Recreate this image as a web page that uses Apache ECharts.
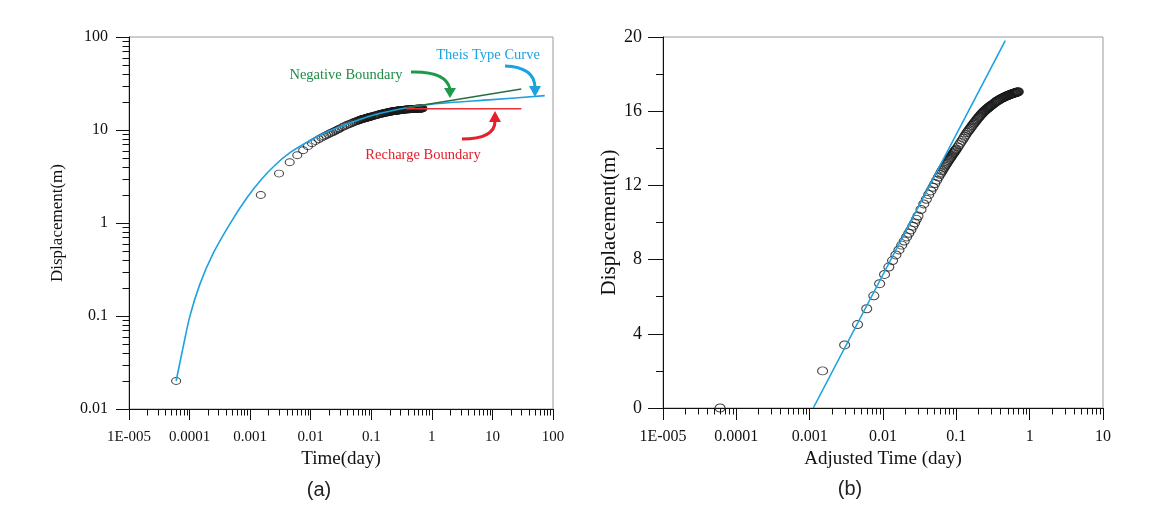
<!DOCTYPE html>
<html><head><meta charset="utf-8">
<script src="https://cdn.jsdelivr.net/npm/echarts@6/dist/echarts.min.js"></script>
<style>html,body{margin:0;background:#fff}#c{width:1164px;height:514px}</style>
</head><body><div id="c"></div><script>
// ---------- data ----------
const obsTime = [0.00006,
  0.0015, 0.003, 0.0045, 0.006, 0.0075, 0.009, 0.0105, 0.012, 0.0135, 0.015,
  0.0165, 0.018, 0.0195, 0.021, 0.0225, 0.024, 0.0255, 0.027, 0.0285, 0.030,
  0.033, 0.036, 0.039, 0.042, 0.045, 0.048, 0.051, 0.054, 0.057, 0.060,
  0.062, 0.064, 0.066, 0.068, 0.070, 0.072, 0.074, 0.076, 0.078, 0.080,
  0.082, 0.084, 0.086, 0.088, 0.090, 0.092, 0.094, 0.096, 0.098, 0.100,
  0.105, 0.110, 0.115, 0.120, 0.125, 0.130, 0.135, 0.140, 0.145, 0.150,
  0.155, 0.160, 0.165, 0.170, 0.175, 0.180, 0.185, 0.190, 0.195, 0.200,
  0.205, 0.210, 0.215, 0.220, 0.225, 0.230, 0.235, 0.240, 0.245, 0.250,
  0.255, 0.260, 0.265, 0.270, 0.275, 0.280, 0.285, 0.290, 0.295, 0.300,
  0.31, 0.32, 0.33, 0.34, 0.35, 0.36, 0.37, 0.38, 0.39, 0.40,
  0.41, 0.42, 0.43, 0.44, 0.45, 0.46, 0.47, 0.48, 0.49, 0.50,
  0.51, 0.52, 0.53, 0.54, 0.55, 0.56, 0.57, 0.58, 0.59, 0.60,
  0.61, 0.62, 0.63, 0.64, 0.65, 0.66, 0.67, 0.68, 0.69, 0.70];
const obsDisp = [0,
  2.0, 3.4, 4.5, 5.35, 6.05, 6.7, 7.2, 7.6, 7.95, 8.25,
  8.52, 8.78, 9.0, 9.22, 9.42, 9.6, 9.8, 9.98, 10.17, 10.35,
  10.7, 11.0, 11.25, 11.5, 11.7, 11.9, 12.1, 12.28, 12.45, 12.6,
  12.7, 12.79, 12.88, 12.96, 13.04, 13.12, 13.19, 13.26, 13.33, 13.4,
  13.46, 13.52, 13.58, 13.64, 13.7, 13.75, 13.8, 13.86, 13.91, 13.96,
  14.07, 14.2, 14.32, 14.43, 14.54, 14.65, 14.75, 14.85, 14.93, 15.0,
  15.08, 15.15, 15.23, 15.3, 15.36, 15.42, 15.48, 15.54, 15.6, 15.65,
  15.7, 15.75, 15.8, 15.84, 15.88, 15.92, 15.96, 16.0, 16.03, 16.06,
  16.09, 16.12, 16.15, 16.17, 16.2, 16.22, 16.25, 16.27, 16.3, 16.32,
  16.36, 16.4, 16.44, 16.48, 16.52, 16.55, 16.58, 16.6, 16.63, 16.66,
  16.68, 16.7, 16.72, 16.74, 16.76, 16.78, 16.8, 16.81, 16.83, 16.84,
  16.86, 16.87, 16.88, 16.89, 16.91, 16.92, 16.93, 16.94, 16.95, 16.96,
  16.97, 16.98, 16.99, 17.0, 17.01, 17.02, 17.02, 17.03, 17.04, 17.05];
const firstPointOnLog = 0.02;   // first reading as shown on the log plot

const theisTime = [0.00006, 0.0000778, 0.0001015, 0.0001485, 0.000243, 0.000464, 0.000885, 0.001566,
  0.002564, 0.00454, 0.00865, 0.01589, 0.0303, 0.106, 0.386, 1.0, 10, 73];
const theisDisp = [0.02, 0.0454, 0.1002, 0.2216, 0.466, 0.98, 1.867, 2.99,
  4.18, 5.70, 7.39, 9.12, 10.85, 14.43, 17.38, 18.96, 21.2, 23.4];
const negTime = [0.38, 30];
const negDisp = [17.3, 27.6];
const rechTime = [0.38, 30];
const rechDisp = [16.9, 16.9];
const jacobTime = [0.00112, 0.465];
const jacobDisp = [0, 19.8];

const logTickLabels = ['1E-005', '0.0001', '0.001', '0.01', '0.1', '1', '10', '100'];
const minorMultipliers = [2, 3, 4, 5, 6, 7, 8, 9];

// ---------- helpers ----------
const SERIF = '"Liberation Serif","Times New Roman",serif';
const INK = '#111';
const BLUE = '#1da2e0';
const pairs = (xs, ys) => xs.map((x, i) => [x, ys[i]]);
const logLabel = v => logTickLabels[Math.round(Math.log10(v)) + 5];
function minorValues(e0, e1) {
  const out = [];
  for (let e = e0; e < e1; e++) minorMultipliers.forEach(m => out.push(m * Math.pow(10, e)));
  return out;
}
function minorTicks(xi, yi, dir, values, other, len) {
  return {
    type: 'custom', xAxisIndex: xi, yAxisIndex: yi, silent: true, clip: false, z: 6,
    data: values.map(v => dir === 'x' ? [v, other] : [other, v]),
    renderItem: (params, api) => {
      const p = api.coord([api.value(0), api.value(1)]);
      const x = Math.round(p[0]) + 0.5, y = Math.round(p[1]) + 0.5;
      return {
        type: 'line',
        shape: dir === 'x' ? {x1: x, y1: y, x2: x, y2: y + len} : {x1: x - len, y1: y, x2: x, y2: y},
        style: {stroke: INK, lineWidth: 1}
      };
    }
  };
}
const obsStyle = {color: 'rgba(0,0,0,0)', borderColor: '#1a1a1a', borderWidth: 1};

const chart = echarts.init(document.getElementById('c'), null, {renderer: 'canvas'});
chart.setOption({
  backgroundColor: '#fff',
  animation: false,
  grid: [
    {left: 129, top: 37, width: 424, height: 372, show: true, borderColor: '#9a9a9a', borderWidth: 1, containLabel: false},
    {left: 663, top: 37, width: 440, height: 371, show: true, borderColor: '#9a9a9a', borderWidth: 1, containLabel: false}
  ],
  xAxis: [
    {gridIndex: 0, type: 'log', logBase: 10, min: 1e-5, max: 100, splitNumber: 7,
     axisLine: {show: true, onZero: false, lineStyle: {color: INK, width: 1}},
     axisTick: {show: true, inside: false, length: 11, lineStyle: {color: INK}},
     axisLabel: {formatter: logLabel, fontFamily: SERIF, fontSize: 15, color: INK, margin: 21},
     splitLine: {show: false},
     name: 'Time(day)', nameLocation: 'middle', nameGap: 37,
     nameTextStyle: {fontFamily: SERIF, fontSize: 19, color: INK}},
    {gridIndex: 1, type: 'log', logBase: 10, min: 1e-5, max: 10, splitNumber: 6,
     axisLine: {show: true, onZero: false, lineStyle: {color: INK, width: 1}},
     axisTick: {show: true, inside: false, length: 12, lineStyle: {color: INK}},
     axisLabel: {formatter: logLabel, fontFamily: SERIF, fontSize: 16, color: INK, margin: 21},
     splitLine: {show: false},
     name: 'Adjusted Time (day)', nameLocation: 'middle', nameGap: 38,
     nameTextStyle: {fontFamily: SERIF, fontSize: 19, color: INK}}
  ],
  yAxis: [
    {gridIndex: 0, type: 'log', logBase: 10, min: 0.01, max: 100, splitNumber: 4,
     axisLine: {show: true, onZero: false, lineStyle: {color: INK, width: 1}},
     axisTick: {show: true, inside: false, length: 13, lineStyle: {color: INK}},
     axisLabel: {formatter: logLabel, fontFamily: SERIF, fontSize: 16, color: INK, margin: 21},
     splitLine: {show: false},
     name: 'Displacement(m)', nameLocation: 'middle', nameGap: 63,
     nameTextStyle: {fontFamily: SERIF, fontSize: 17, color: INK}},
    {gridIndex: 1, type: 'value', min: 0, max: 20, interval: 4,
     axisLine: {show: true, onZero: false, lineStyle: {color: INK, width: 1}},
     axisTick: {show: true, inside: false, length: 15, lineStyle: {color: INK}},
     minorTick: {show: true, splitNumber: 2, length: 7, lineStyle: {color: INK}},
     axisLabel: {fontFamily: SERIF, fontSize: 18, color: INK, margin: 21},
     splitLine: {show: false},
     name: 'Displacement(m)', nameLocation: 'middle', nameGap: 40,
     nameTextStyle: {fontFamily: SERIF, fontSize: 21, color: INK}}
  ],
  series: [
    {type: 'scatter', xAxisIndex: 0, yAxisIndex: 0, z: 2, symbol: 'circle', symbolSize: [9, 7],
     data: obsTime.map((t, i) => [t, obsDisp[i] > 0 ? obsDisp[i] : firstPointOnLog]),
     itemStyle: obsStyle},
    {type: 'line', xAxisIndex: 0, yAxisIndex: 0, z: 3, data: pairs(theisTime, theisDisp),
     smooth: 0.3, showSymbol: false, lineStyle: {color: BLUE, width: 1.6}},
    {type: 'line', xAxisIndex: 0, yAxisIndex: 0, z: 3, data: pairs(negTime, negDisp),
     showSymbol: false, lineStyle: {color: '#2b6d3e', width: 1.5}},
    {type: 'line', xAxisIndex: 0, yAxisIndex: 0, z: 3, data: pairs(rechTime, rechDisp),
     showSymbol: false, lineStyle: {color: '#e8303a', width: 1.5}},
    {type: 'scatter', xAxisIndex: 1, yAxisIndex: 1, z: 2, symbol: 'circle', symbolSize: [10, 8],
     data: pairs(obsTime, obsDisp), itemStyle: obsStyle},
    {type: 'line', xAxisIndex: 1, yAxisIndex: 1, z: 3, data: pairs(jacobTime, jacobDisp),
     showSymbol: false, lineStyle: {color: BLUE, width: 1.6}},
    minorTicks(0, 0, 'x', minorValues(-5, 2), 0.01, 6),
    minorTicks(0, 0, 'y', minorValues(-2, 2), 1e-5, 7),
    minorTicks(1, 1, 'x', minorValues(-5, 1), 0, 6)
  ],
  graphic: [
    {type: 'text', x: 346, y: 75, style: {text: 'Negative Boundary', font: '14.5px ' + SERIF, fill: '#1f8c46', align: 'center', verticalAlign: 'middle'}},
    {type: 'text', x: 488, y: 55, style: {text: 'Theis Type Curve', font: '14.5px ' + SERIF, fill: BLUE, align: 'center', verticalAlign: 'middle'}},
    {type: 'text', x: 423, y: 155, style: {text: 'Recharge Boundary', font: '14.5px ' + SERIF, fill: '#e3202c', align: 'center', verticalAlign: 'middle'}},
    {type: 'bezierCurve', shape: {x1: 411, y1: 72, cpx1: 446, cpy1: 71, x2: 450, y2: 89}, style: {stroke: '#1e9a4a', lineWidth: 3, fill: null}},
    {type: 'polygon', shape: {points: [[444, 88], [456, 88], [450, 98]]}, style: {fill: '#1e9a4a'}},
    {type: 'bezierCurve', shape: {x1: 505, y1: 66, cpx1: 534, cpy1: 67, x2: 535, y2: 87}, style: {stroke: BLUE, lineWidth: 3, fill: null}},
    {type: 'polygon', shape: {points: [[529, 86], [541, 86], [535, 97]]}, style: {fill: BLUE}},
    {type: 'bezierCurve', shape: {x1: 462, y1: 139, cpx1: 495, cpy1: 139, x2: 495, y2: 121}, style: {stroke: '#e3202c', lineWidth: 3, fill: null}},
    {type: 'polygon', shape: {points: [[489, 122], [501, 122], [495, 111]]}, style: {fill: '#e3202c'}},
    {type: 'text', x: 319, y: 490, style: {text: '(a)', font: '20px "Liberation Sans", sans-serif', fill: '#222', align: 'center', verticalAlign: 'middle'}},
    {type: 'text', x: 850, y: 489, style: {text: '(b)', font: '20px "Liberation Sans", sans-serif', fill: '#222', align: 'center', verticalAlign: 'middle'}}
  ]
});
</script></body></html>
